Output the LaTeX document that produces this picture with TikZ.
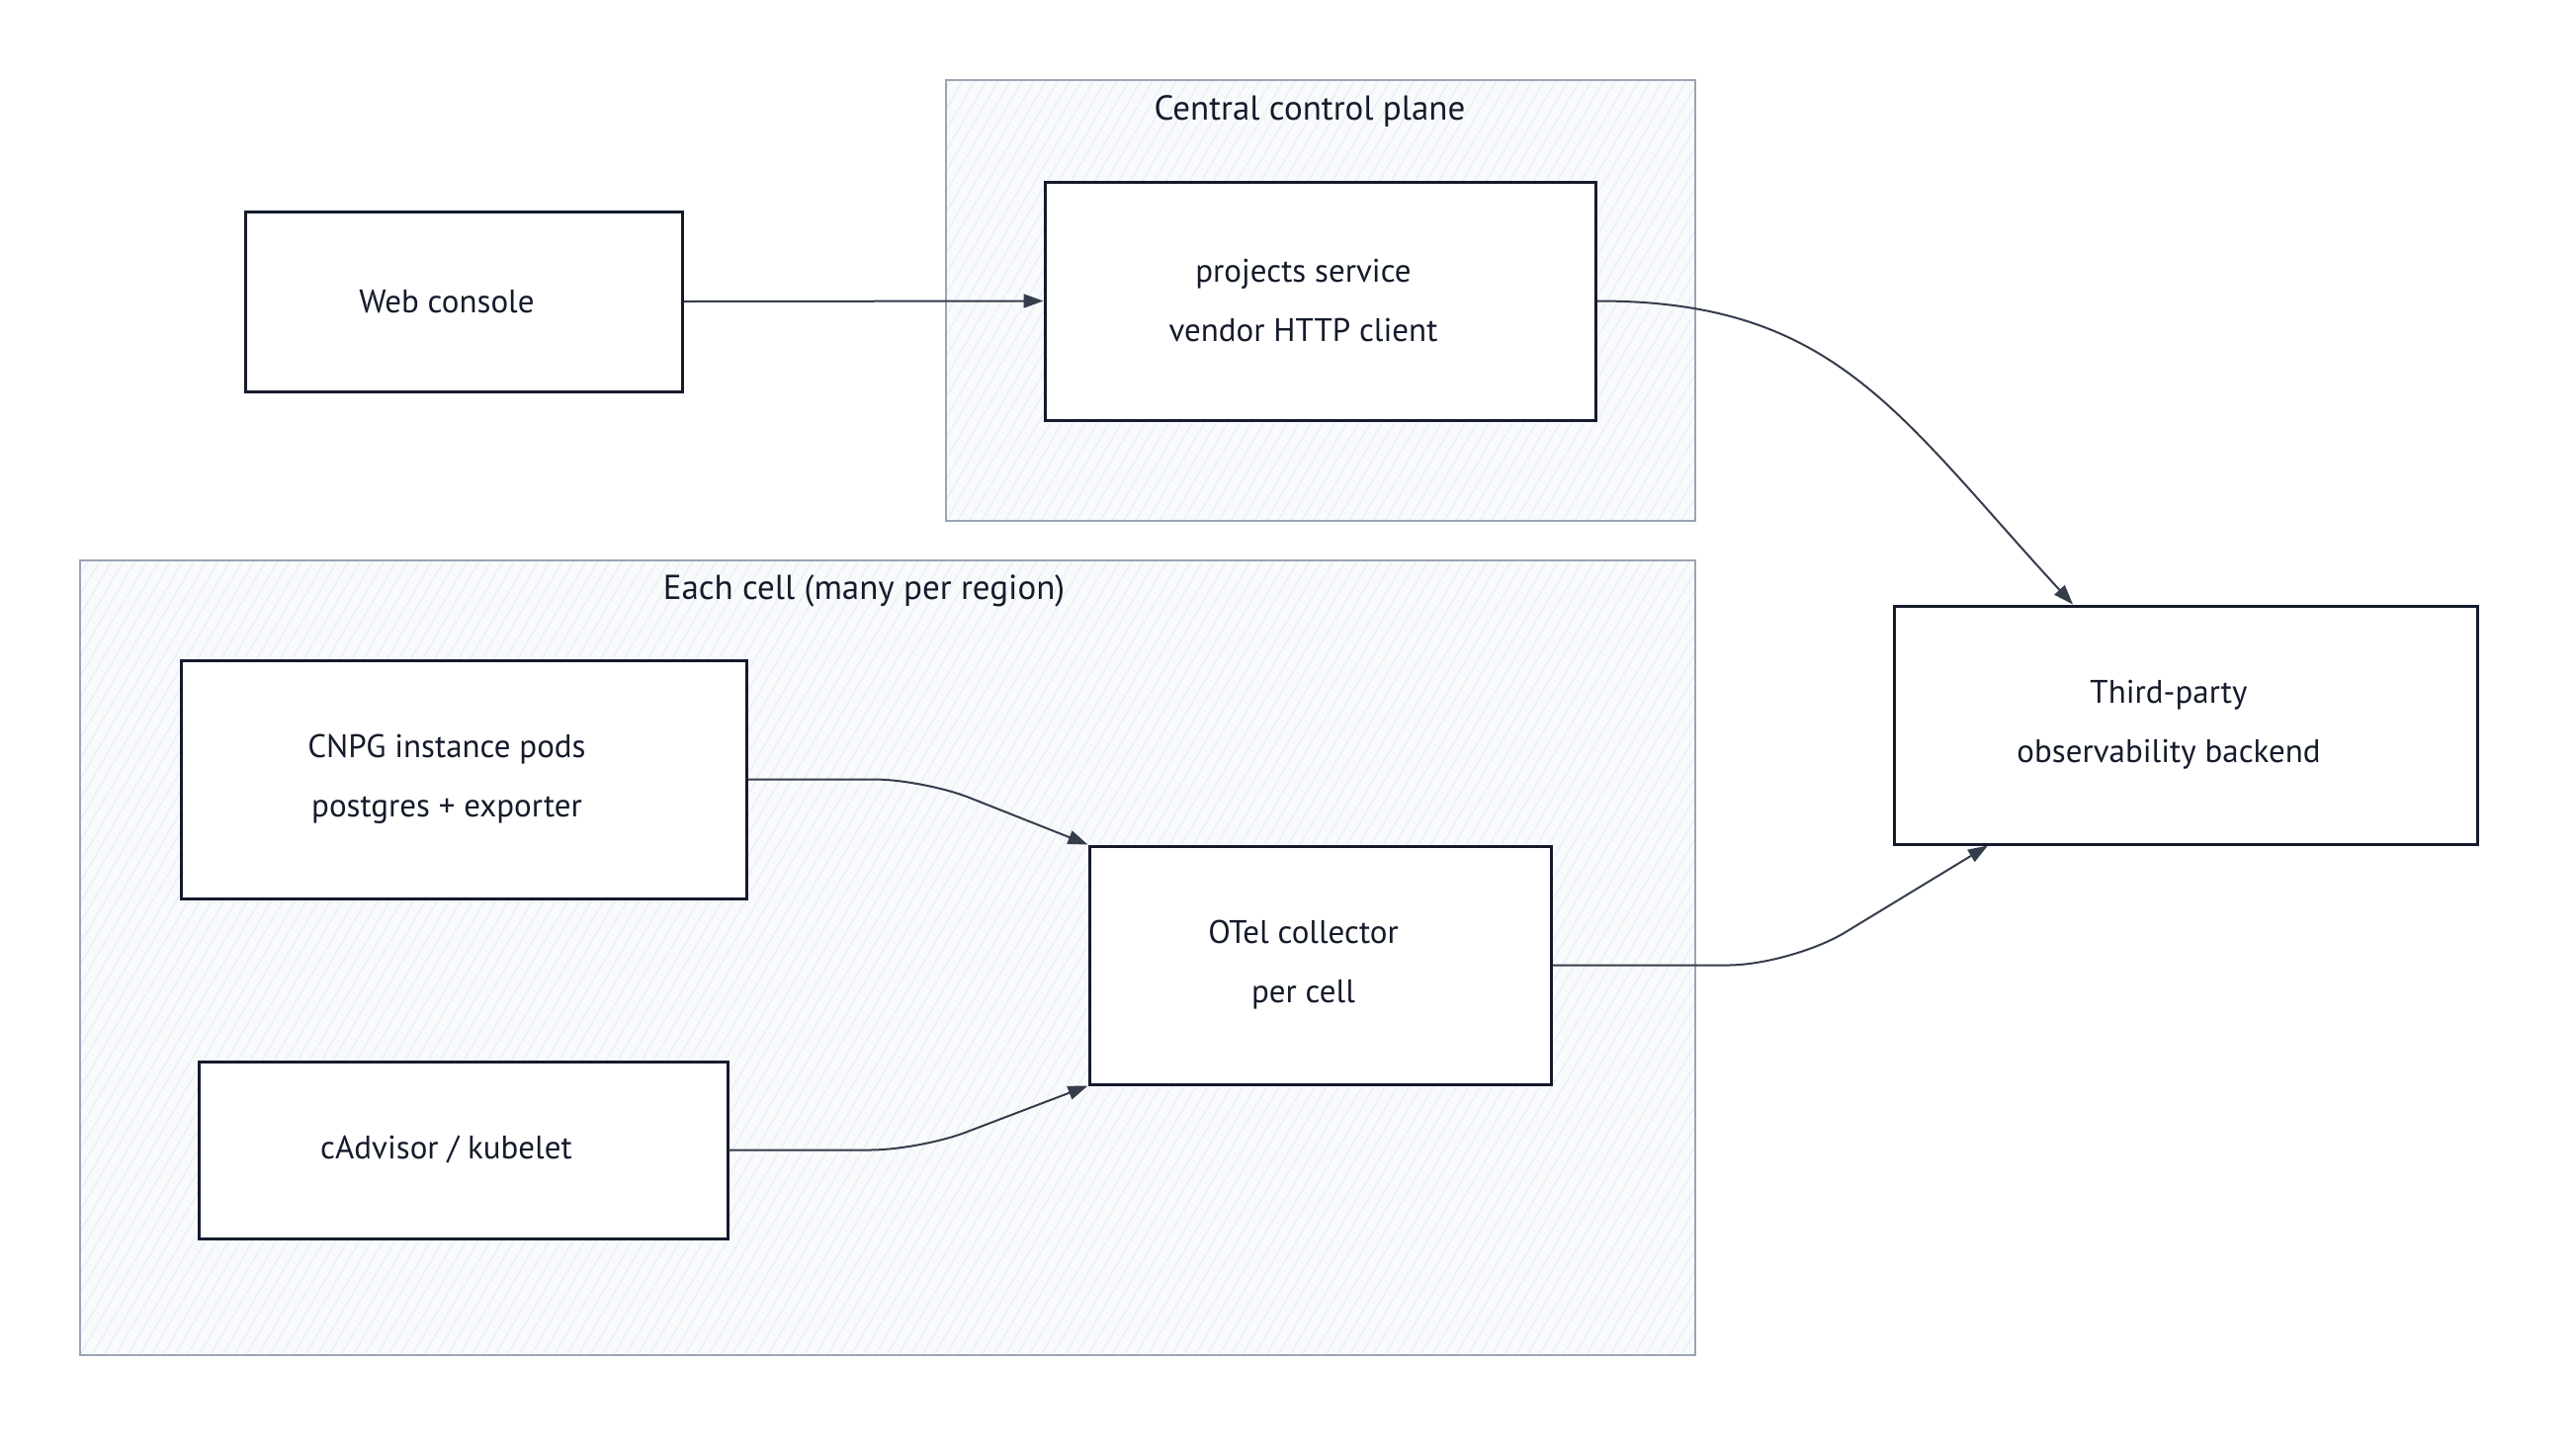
\documentclass[tikz,border=0pt]{standalone}
\usepackage{fontspec}
\setmainfont{PT Sans}
\usetikzlibrary{arrows.meta,positioning}
\definecolor{ink}{HTML}{151B2B}
\definecolor{edge}{HTML}{353D4D}
\definecolor{grp}{HTML}{9AA4B4}
\definecolor{grpfill}{HTML}{F8FAFC}
\definecolor{hatch}{HTML}{E9EDF2}
\tikzset{
  box/.style={draw=ink, line width=1.5pt, fill=white, align=center, text=ink,
    font=\fontsize{16.5}{30}\selectfont, inner sep=0pt},
  grpbox/.style={draw=grp, line width=1.4pt, inner sep=0pt},
  grptitle/.style={text=ink, font=\fontsize{17.5}{20}\selectfont},
  conn/.style={draw=edge, line width=1pt, -{Triangle[length=10pt,width=7pt]}},
}
\newcommand{\tsh}{\hspace*{17pt}}
\newcommand{\hatchrect}[4]{%
  \begin{scope}
    \clip (#1,#2) rectangle (#3,#4);
    \fill[grpfill] (#1,#2) rectangle (#3,#4);
    \foreach \xx in {-600,-588,...,1800} {
      \draw[hatch, line width=0.5pt] ({#1+\xx},#4) -- ({#1+\xx+500},{#4-866});
    }
  \end{scope}}
\begin{document}
\begin{tikzpicture}[x=0.5pt,y=-0.5pt]
\useasboundingbox (0,0) rectangle (2606,1464);
\fill[white] (0,0) rectangle (2606,1464);
% groups
\hatchrect{957}{81}{1715}{527}
\hatchrect{81}{567}{1715}{1371}
\node[grpbox, minimum width=379pt, minimum height=223pt] (central) at (1336,304) {};
\node[grpbox, minimum width=817pt, minimum height=402pt] (cell) at (898,969) {};
\node[grptitle] (centraltitle) at (1325,113) {Central control plane};
\node[grptitle] (celltitle) at (874,598) {Each cell (many per region)};
% nodes
\node[box, minimum width=221pt, minimum height=91pt] (web) at (469,305) {Web console\tsh};
\node[box, minimum width=278.5pt, minimum height=120.5pt] (proj) at (1335.5,304.5) {projects service\tsh\\vendor HTTP client\tsh};
\node[box, minimum width=286pt, minimum height=120.5pt] (cnpg) at (469,788.5) {CNPG instance pods\tsh\\postgres + exporter\tsh};
\node[box, minimum width=267.5pt, minimum height=89.5pt] (cadv) at (468.5,1163.5) {cAdvisor / kubelet\tsh};
\node[box, minimum width=233.5pt, minimum height=120.5pt] (otel) at (1335.5,976.5) {OTel collector\tsh\\per cell\tsh};
\node[box, minimum width=295pt, minimum height=120.5pt] (third) at (2211,733.5) {Third-party\tsh\\observability backend\tsh};
% connectors
\draw[conn] (web.east) -- (proj.west);
\draw[conn] (proj.east) .. controls (1856,304) and (1919,418) .. ([xshift=-57pt]third.north);
\draw[conn, rounded corners=25pt] (cnpg.east) -- (934,788.5) -- (otel.north west);
\draw[conn, rounded corners=25pt] (cadv.east) -- (930,1163.5) -- (otel.south west);
\draw[conn, rounded corners=32pt] (otel.east) -- (1812,976.5) -- ([xshift=-100pt]third.south);
\end{tikzpicture}
\end{document}
